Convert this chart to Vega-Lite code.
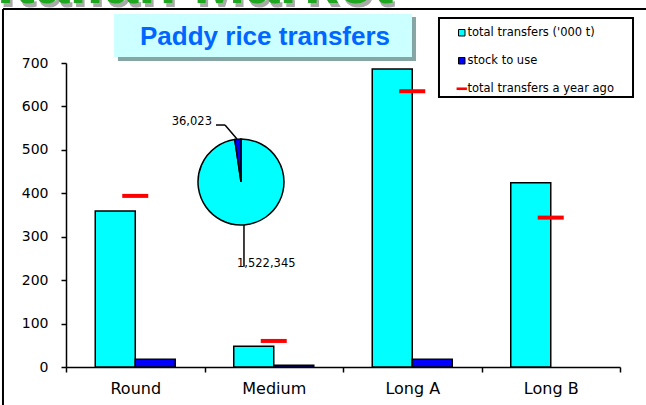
{
  "$schema": "https://vega.github.io/schema/vega-lite/v6.json",
  "width": 554,
  "height": 304,
  "autosize": {"type": "none"},
  "padding": {"left": 66, "top": 63, "right": 26, "bottom": 38},
  "background": "white",
  "config": {
    "view": {"stroke": null},
    "font": "Liberation Sans",
    "axis": {"grid": false, "title": null, "domainColor": "black", "domainWidth": 1.5, "tickColor": "black", "tickWidth": 1.5, "tickSize": 5, "labelColor": "black", "labelFont": "DejaVu Sans"}
  },
  "datasets": {
    "transfers": [
      {"variety": "Round", "series": "total transfers ('000 t)", "value": 359},
      {"variety": "Round", "series": "stock to use", "value": 18},
      {"variety": "Round", "series": "total transfers a year ago", "value": 394},
      {"variety": "Medium", "series": "total transfers ('000 t)", "value": 48},
      {"variety": "Medium", "series": "stock to use", "value": 4},
      {"variety": "Medium", "series": "total transfers a year ago", "value": 60},
      {"variety": "Long A", "series": "total transfers ('000 t)", "value": 686},
      {"variety": "Long A", "series": "stock to use", "value": 18},
      {"variety": "Long A", "series": "total transfers a year ago", "value": 635},
      {"variety": "Long B", "series": "total transfers ('000 t)", "value": 424},
      {"variety": "Long B", "series": "total transfers a year ago", "value": 344}
    ],
    "pie": [
      {"part": "total transfers ('000 t)", "amount": 1522345},
      {"part": "stock to use", "amount": 36023}
    ]
  },
  "layer": [
    {
      "data": {"name": "transfers"},
      "encoding": {
        "x": {
          "field": "variety", "type": "nominal",
          "sort": ["Round", "Medium", "Long A", "Long B"],
          "scale": {"paddingInner": 0, "paddingOuter": 0},
          "axis": {"labelAngle": 0, "tickBand": "extent", "labelPadding": 8, "labelFontSize": 16, "encode": {"ticks": {"update": {"y": {"value": -5}}}}}
        },
        "y": {
          "field": "value", "type": "quantitative",
          "scale": {"domain": [0, 700], "nice": false},
          "axis": {"values": [0, 100, 200, 300, 400, 500, 600, 700], "labelPadding": 13, "labelFontSize": 14, "encode": {"ticks": {"update": {"x": {"value": 5}}}}}
        }
      },
      "layer": [
        {
          "transform": [{"filter": "datum.series !== 'total transfers a year ago'"}],
          "mark": {"type": "bar", "stroke": "black", "strokeWidth": 1.5},
          "encoding": {
            "xOffset": {"field": "series", "type": "nominal", "scale": {"domain": ["total transfers ('000 t)", "stock to use"], "paddingInner": 0, "paddingOuter": 0.731}},
            "color": {
              "field": "series", "type": "nominal",
              "scale": {"domain": ["total transfers ('000 t)", "stock to use", "total transfers a year ago"], "range": ["#00ffff", "#0000ff", "#ff0000"]},
              "legend": {
                "orient": "none", "legendX": 390, "legendY": -36, "title": null, "padding": 0,
                "symbolType": "square", "symbolSize": 42, "symbolStrokeColor": "black", "symbolStrokeWidth": 1,
                "labelFontSize": 11.5, "labelFont": "DejaVu Sans", "labelColor": "black", "labelOffset": 0, "rowPadding": 15,
                "encode": {"symbols": {"update": {
                  "shape": {"signal": "datum.value === 'total transfers a year ago' ? 'M-1.6,-0.4H1.6V0.4H-1.6Z' : 'square'"},
                  "stroke": {"signal": "datum.value === 'total transfers a year ago' ? 'transparent' : 'black'"}
                }}}
              }
            }
          }
        },
        {
          "transform": [{"filter": "datum.series === 'total transfers a year ago'"}],
          "mark": {"type": "tick", "size": 26, "thickness": 4, "opacity": 1},
          "encoding": {
            "color": {"field": "series", "type": "nominal", "legend": null}
          }
        }
      ]
    },
    {
      "layer": [
        {
          "data": {"values": [{}]},
          "mark": {"type": "text", "fontSize": 62, "fontWeight": "bold", "align": "left", "baseline": "alphabetic", "color": "#aaaaaa", "font": "Liberation Sans"},
          "encoding": {
            "x": {"datum": -0.48, "type": "quantitative", "scale": {"domain": [0, 4], "nice": false, "zero": false}, "axis": null},
            "y": {"datum": 827.8, "type": "quantitative", "scale": {"domain": [0, 700], "nice": false}},
            "text": {"value": "Italian Market"}
          }
        },
        {
          "data": {"values": [{}]},
          "mark": {"type": "text", "fontSize": 62, "fontWeight": "bold", "align": "left", "baseline": "alphabetic", "color": "#1fa81f", "font": "Liberation Sans"},
          "encoding": {
            "x": {"datum": -0.498, "type": "quantitative", "scale": {"domain": [0, 4], "nice": false, "zero": false}, "axis": null},
            "y": {"datum": 839.3, "type": "quantitative", "scale": {"domain": [0, 700], "nice": false}},
            "text": {"value": "Italian Market"}
          }
        },
        {
          "data": {"values": [{}]},
          "mark": {"type": "rule", "color": "black", "strokeWidth": 2},
          "encoding": {
            "x": {"datum": -0.455, "type": "quantitative", "scale": {"domain": [0, 4], "nice": false, "zero": false}, "axis": null},
            "x2": {"datum": 4.2},
            "y": {"datum": 824.3, "type": "quantitative", "scale": {"domain": [0, 700], "nice": false}},
            "y2": {"datum": 824.3}
          }
        },
        {
          "data": {"values": [{}]},
          "mark": {"type": "rule", "color": "black", "strokeWidth": 2},
          "encoding": {
            "x": {"datum": -0.455, "type": "quantitative", "scale": {"domain": [0, 4], "nice": false, "zero": false}, "axis": null},
            "x2": {"datum": -0.455},
            "y": {"datum": 824.3, "type": "quantitative", "scale": {"domain": [0, 700], "nice": false}},
            "y2": {"datum": -95}
          }
        },
        {
          "data": {"values": [{}]},
          "mark": {"type": "rect", "color": "#86a6a6"},
          "encoding": {
            "x": {"datum": 0.375, "type": "quantitative", "scale": {"domain": [0, 4], "nice": false, "zero": false}, "axis": null},
            "x2": {"datum": 2.527},
            "y": {"datum": 805.9, "type": "quantitative", "scale": {"domain": [0, 700], "nice": false}},
            "y2": {"datum": 704.6}
          }
        },
        {
          "data": {"values": [{}]},
          "mark": {"type": "rect", "color": "#ccffff"},
          "encoding": {
            "x": {"datum": 0.347, "type": "quantitative", "scale": {"domain": [0, 4], "nice": false, "zero": false}, "axis": null},
            "x2": {"datum": 2.498},
            "y": {"datum": 812.8, "type": "quantitative", "scale": {"domain": [0, 700], "nice": false}},
            "y2": {"datum": 713.8}
          }
        },
        {
          "data": {"values": [{}]},
          "mark": {"type": "text", "fontSize": 26, "fontWeight": "bold", "align": "center", "baseline": "alphabetic", "color": "#0066ff", "font": "Liberation Sans"},
          "encoding": {
            "x": {"datum": 1.437, "type": "quantitative", "scale": {"domain": [0, 4], "nice": false, "zero": false}, "axis": null},
            "y": {"datum": 741.4, "type": "quantitative", "scale": {"domain": [0, 700], "nice": false}},
            "text": {"value": "Paddy rice transfers"}
          }
        },
        {
          "data": {"values": [{}]},
          "mark": {"type": "rect", "fill": "white", "stroke": "black", "strokeWidth": 2},
          "encoding": {
            "x": {"datum": 2.693, "type": "quantitative", "scale": {"domain": [0, 4], "nice": false, "zero": false}, "axis": null},
            "x2": {"datum": 4.094},
            "y": {"datum": 803.6, "type": "quantitative", "scale": {"domain": [0, 700], "nice": false}},
            "y2": {"datum": 621.7}
          }
        },
        {
          "data": {"name": "pie"},
          "mark": {"type": "arc", "radius": 43, "stroke": "black", "strokeWidth": 1.5},
          "encoding": {
            "x": {"datum": 1.2635, "type": "quantitative", "scale": {"domain": [0, 4], "nice": false, "zero": false}, "axis": null},
            "y": {"datum": 426.0, "type": "quantitative", "scale": {"domain": [0, 700], "nice": false}},
            "theta": {"field": "amount", "type": "quantitative", "stack": true},
            "order": {"field": "amount", "type": "quantitative", "sort": "descending"},
            "color": {"field": "part", "type": "nominal", "legend": null}
          }
        },
        {
          "data": {"values": [{}]},
          "mark": {"type": "rule", "color": "black", "strokeWidth": 1.5},
          "encoding": {
            "x": {"datum": 1.083, "type": "quantitative", "scale": {"domain": [0, 4], "nice": false, "zero": false}, "axis": null},
            "x2": {"datum": 1.148},
            "y": {"datum": 557.2, "type": "quantitative", "scale": {"domain": [0, 700], "nice": false}},
            "y2": {"datum": 557.2}
          }
        },
        {
          "data": {"values": [{}]},
          "mark": {"type": "rule", "color": "black", "strokeWidth": 1.5},
          "encoding": {
            "x": {"datum": 1.148, "type": "quantitative", "scale": {"domain": [0, 4], "nice": false, "zero": false}, "axis": null},
            "x2": {"datum": 1.2347},
            "y": {"datum": 557.2, "type": "quantitative", "scale": {"domain": [0, 700], "nice": false}},
            "y2": {"datum": 525.0}
          }
        },
        {
          "data": {"values": [{}]},
          "mark": {"type": "rule", "color": "black", "strokeWidth": 1.5},
          "encoding": {
            "x": {"datum": 1.285, "type": "quantitative", "scale": {"domain": [0, 4], "nice": false, "zero": false}, "axis": null},
            "x2": {"datum": 1.285},
            "y": {"datum": 327.0, "type": "quantitative", "scale": {"domain": [0, 700], "nice": false}},
            "y2": {"datum": 231.0}
          }
        },
        {
          "data": {"values": [{}]},
          "mark": {"type": "text", "fontSize": 11.5, "align": "right", "baseline": "middle", "color": "black", "font": "DejaVu Sans"},
          "encoding": {
            "x": {"datum": 1.054, "type": "quantitative", "scale": {"domain": [0, 4], "nice": false, "zero": false}, "axis": null},
            "y": {"datum": 564.1, "type": "quantitative", "scale": {"domain": [0, 700], "nice": false}},
            "text": {"value": "36,023"}
          }
        },
        {
          "data": {"values": [{}]},
          "mark": {"type": "text", "fontSize": 11.5, "align": "left", "baseline": "middle", "color": "black", "font": "DejaVu Sans"},
          "encoding": {
            "x": {"datum": 1.2347, "type": "quantitative", "scale": {"domain": [0, 4], "nice": false, "zero": false}, "axis": null},
            "y": {"datum": 237.2, "type": "quantitative", "scale": {"domain": [0, 700], "nice": false}},
            "text": {"value": "1,522,345"}
          }
        }
      ]
    }
  ],
  "resolve": {"scale": {"x": "independent"}}
}
